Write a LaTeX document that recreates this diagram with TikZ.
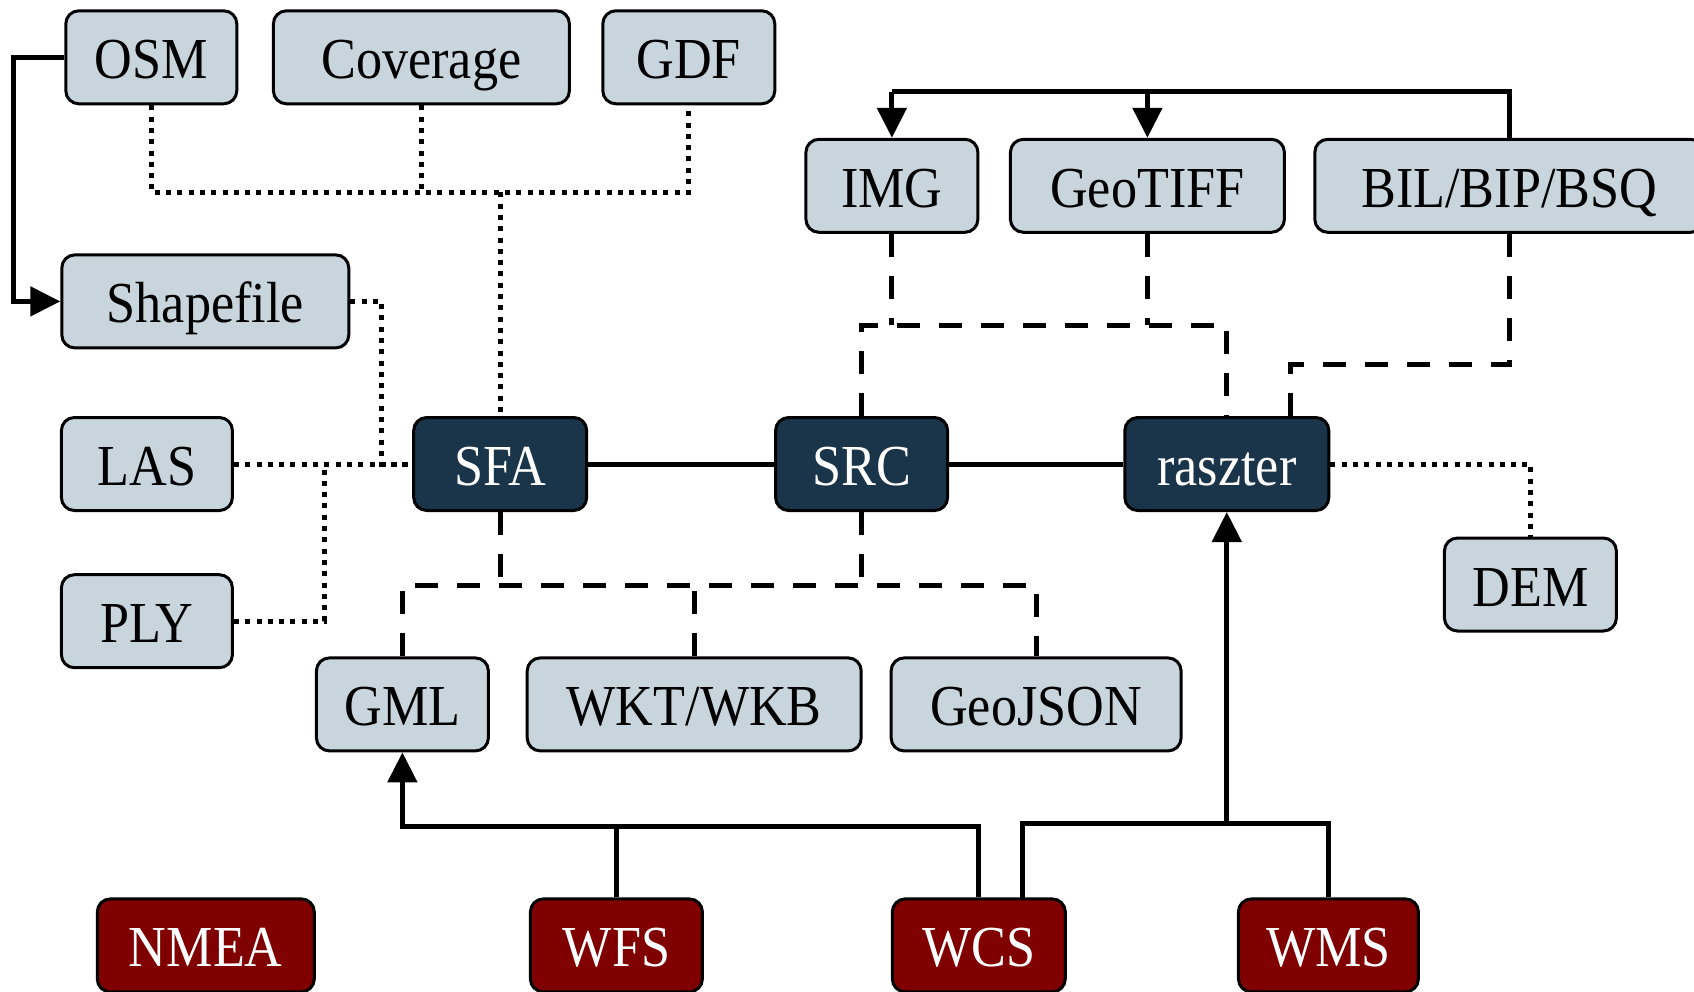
\documentclass[tikz,border=0pt]{standalone}
\usepackage{fontspec}
\setmainfont{Liberation Serif}[FakeStretch=0.9]
\usetikzlibrary{arrows.meta}
\definecolor{lite}{HTML}{C8D5DD}
\definecolor{dark}{HTML}{1A3549}
\definecolor{wine}{HTML}{800000}
\begin{document}
\begin{tikzpicture}[x=1pt,y=-1pt,
  box/.style={draw=black, line width=3pt, rounded corners=13pt, minimum height=93pt,
    inner sep=0pt, text height=55pt, text depth=12pt, font=\fontsize{58}{60}\selectfont},
  litebox/.style={box, fill=lite, text=black},
  darkbox/.style={box, fill=dark, text=white},
  winebox/.style={box, fill=wine, text=white},
  solidl/.style={line width=5pt},
  dashl/.style={line width=5pt, dash pattern=on 23pt off 19pt},
  dotl/.style={line width=5pt, dash pattern=on 5pt off 6.3pt},
  arr/.style={-{Triangle[length=30pt,width=29pt]}}
]
\useasboundingbox (0,0) rectangle (1694,991);
% nodes
\node[litebox, minimum width=171pt] (osm) at (151.3,57.3) {OSM};
\node[litebox, minimum width=296pt] (cov) at (421.4,57.3) {Coverage};
\node[litebox, minimum width=172pt] (gdf) at (688.8,57.3) {GDF};
\node[litebox, minimum width=287pt] (shp) at (205.3,301.4) {Shapefile};
\node[litebox, minimum width=171pt] (las) at (146.9,464) {LAS};
\node[litebox, minimum width=171pt] (ply) at (146.9,621.2) {PLY};
\node[darkbox, minimum width=173pt] (sfa) at (500.2,464) {SFA};
\node[darkbox, minimum width=172pt] (src) at (861.6,464) {SRC};
\node[darkbox, minimum width=204pt] (ras) at (1226.8,464) {raszter};
\node[litebox, minimum width=172pt] (img) at (891.9,185.8) {IMG};
\node[litebox, minimum width=274pt] (gtf) at (1147.4,185.8) {GeoTIFF};
\node[litebox, minimum width=389pt] (bil) at (1509.3,185.8) {BIL/BIP/BSQ};
\node[litebox, minimum width=172pt] (dem) at (1530.4,584.5) {DEM};
\node[litebox, minimum width=172pt] (gml) at (402.4,704.4) {GML};
\node[litebox, minimum width=334pt] (wkt) at (694.2,704.4) {WKT/WKB};
\node[litebox, minimum width=290pt] (gjs) at (1036.1,704.4) {GeoJSON};
\node[winebox, minimum width=217pt] (nmea) at (205.8,945.4) {NMEA};
\node[winebox, minimum width=172pt] (wfs) at (616.4,945.4) {WFS};
\node[winebox, minimum width=173pt] (wcs) at (978.8,945.4) {WCS};
\node[winebox, minimum width=180pt] (wms) at (1328.4,945.4) {WMS};
% helper coordinates
\coordinate (oL) at (13,57.3);
\coordinate (dt) at (500.2,192.3);
\coordinate (sj) at (381.6,464);
\coordinate (pj) at (324.5,464);
\coordinate (dh) at (861.6,325);
\coordinate (bj) at (1290.6,364);
\coordinate (tb) at (891.9,91.7);
\coordinate (bh) at (500.2,585);
\coordinate (wh) at (616.4,826.7);
\coordinate (wh2) at (1226.8,823);
\coordinate (wcsR) at (1022.2,898.9);
% connectors
\draw[solidl, arr] (osm.west) -- (oL) |- (shp.west);
\draw[dotl] (osm.south) |- (dt) -| (gdf.south);
\draw[dotl] (cov.south) -- (cov.south |- dt);
\draw[dotl] (dt) -- (sfa.north);
\draw[dotl] (shp.east) -| (sj) -- (sfa.west);
\draw[dotl] (las.east) -- (sfa.west);
\draw[dotl] (ply.east) -| (pj);
\draw[solidl] (sfa.east) -- (src.west);
\draw[solidl] (src.east) -- (ras.west);
\draw[dotl] (ras.east) -| (dem.north);
\draw[dashl] (src.north) |- (ras.north |- dh) -- (ras.north);
\draw[dashl] (img.south) -- (img.south |- dh);
\draw[dashl] (gtf.south) -- (gtf.south |- dh);
\draw[dashl] (bil.south) |- (bj) -- (bj |- ras.north);
\draw[solidl] (bil.north) -- (bil.north |- tb) -- (tb);
\draw[solidl, arr] (tb) -- (img.north);
\draw[solidl, arr] (gtf.north |- tb) -- (gtf.north);
\draw[dashl] (sfa.south) -- (sfa.south |- bh);
\draw[dashl] (src.south) -- (src.south |- bh);
\draw[dashl] (gml.north) |- (gjs.north |- bh) -- (gjs.north);
\draw[dashl] (wkt.north) -- (wkt.north |- bh);
\draw[solidl, arr] (wcs.north) |- (gml.south |- wh) -- (gml.south);
\draw[solidl] (wfs.north) -- (wh);
\draw[solidl] (wcsR) |- (wms.north |- wh2) -- (wms.north);
\draw[solidl, arr] (wh2) -- (ras.south);
\end{tikzpicture}
\end{document}
